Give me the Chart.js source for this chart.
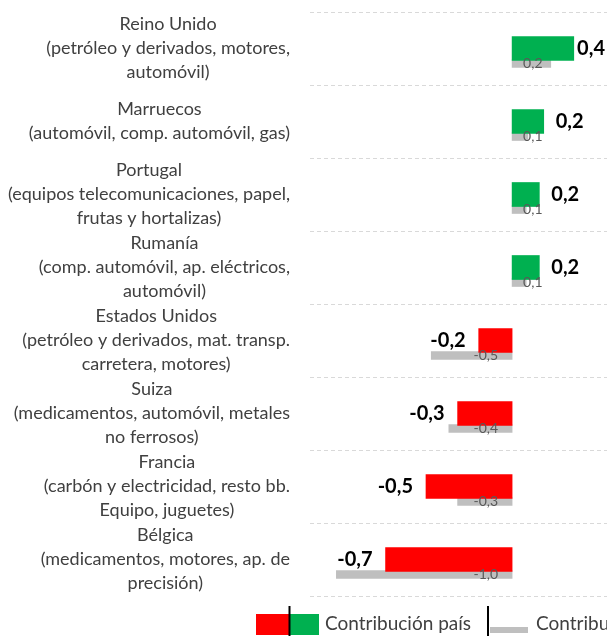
<!DOCTYPE html>
<html>
<head>
<meta charset="utf-8">
<script src="https://cdn.jsdelivr.net/npm/chart.js@4"></script>
<style>
  html, body { margin: 0; padding: 0; background: #ffffff; overflow: hidden; }
  #wrap { position: relative; width: 607px; height: 637px; }
</style>
</head>
<body>
<div id="wrap"><canvas id="c"></canvas></div>
<script>
// ---- Data ----
const categories = [
  ['Reino Unido', '(petróleo y derivados, motores,', 'automóvil)'],
  ['Marruecos', '(automóvil, comp. automóvil, gas)'],
  ['Portugal', '(equipos telecomunicaciones, papel,', 'frutas y hortalizas)'],
  ['Rumanía', '(comp. automóvil, ap. eléctricos,', 'automóvil)'],
  ['Estados Unidos', '(petróleo y derivados, mat. transp.', 'carretera, motores)'],
  ['Suiza', '(medicamentos, automóvil, metales', 'no ferrosos)'],
  ['Francia', '(carbón y electricidad, resto bb.', 'Equipo, juguetes)'],
  ['Bélgica', '(medicamentos, motores, ap. de', 'precisión)']
];
const contribucionPais = [0.351, 0.18, 0.155, 0.155, -0.19, -0.31, -0.49, -0.72];
const contribucionAnterior = [0.22, 0.09, 0.08, 0.08, -0.46, -0.36, -0.31, -1.0];
const legendLabels = ['Contribución país', 'Contribución país periodo anterior'];

const GREEN = '#00B050', RED = '#FF0000', GREY = '#BFBFBF';
const fmt = v => v.toFixed(1).replace('.', ',');

// grey series sits just below the main bar: shift expressed in category units
const ROWS = categories.length;
const greyShift = 15 / 73;

const labelPlugin = {
  id: 'customLabels',
  afterDatasetsDraw(chart) {
    const ctx = chart.ctx;
    const xs = chart.scales.x;
    const ys = chart.scales.y;
    const zero = xs.getPixelForValue(0);
    const W = chart.width;
    // category labels (right-aligned blocks, centered lines)
    ctx.save();
    ctx.font = '18px Lato';
    ctx.fillStyle = '#404040';
    ctx.textBaseline = 'middle';
    ctx.textAlign = 'center';
    const right = 290, lh = 24;
    categories.forEach((lines, i) => {
      const cy = ys.getPixelForValue(i);
      const maxW = Math.max(...lines.map(l => ctx.measureText(l).width));
      const cx = right - maxW / 2;
      const y0 = cy - (lines.length - 1) * lh / 2;
      lines.forEach((l, k) => ctx.fillText(l, cx, y0 + k * lh));
    });
    ctx.restore();

    // main value labels
    const mMain = chart.getDatasetMeta(0);
    ctx.save();
    ctx.font = 'bold 20px Lato';
    ctx.fillStyle = '#000000';
    ctx.textBaseline = 'middle';
    mMain.data.forEach((bar, i) => {
      const v = contribucionPais[i];
      const t = fmt(v);
      const w = ctx.measureText(t).width;
      if (v >= 0) {
        ctx.textAlign = 'left';
        const x = Math.min(bar.x + 12, W - w - 2);
        ctx.fillText(t, x, bar.y);
      } else {
        ctx.textAlign = 'right';
        ctx.fillText(t, bar.x - 13, bar.y);
      }
    });
    ctx.restore();

    // grey value labels (inside base)
    const mGrey = chart.getDatasetMeta(1);
    ctx.save();
    ctx.font = '14px Lato';
    ctx.fillStyle = '#595959';
    ctx.textBaseline = 'middle';
    mGrey.data.forEach((bar, i) => {
      const v = contribucionAnterior[i];
      const t = fmt(v);
      if (v >= 0) {
        ctx.textAlign = 'left';
        ctx.fillText(t, zero + 11, bar.y);
      } else {
        ctx.textAlign = 'right';
        ctx.fillText(t, zero - 14, bar.y);
      }
    });
    ctx.restore();

    // legend
    ctx.save();
    const ly = 624;
    ctx.fillStyle = RED; ctx.fillRect(256, 614, 33, 21);
    ctx.fillStyle = GREEN; ctx.fillRect(290, 614, 29, 21);
    ctx.fillStyle = '#000000';
    ctx.fillRect(288.5, 606, 2, 30);
    ctx.font = '19px Lato';
    ctx.fillStyle = '#404040';
    ctx.textBaseline = 'middle';
    ctx.textAlign = 'left';
    ctx.fillText(legendLabels[0], 325, ly);
    ctx.fillStyle = GREY; ctx.fillRect(490, 627, 38, 6);
    ctx.fillStyle = '#000000'; ctx.fillRect(487, 606, 2, 30);
    ctx.fillStyle = '#404040';
    ctx.fillText(legendLabels[1], 536, ly);
    ctx.restore();
  }
};

new Chart(document.getElementById('c'), {
  type: 'bar',
  data: {
    labels: categories.map(c => c[0]),
    datasets: [
      {
        label: legendLabels[0],
        data: contribucionPais,
        backgroundColor: contribucionPais.map(v => v >= 0 ? GREEN : RED),
        barThickness: 24,
        grouped: false,
        yAxisID: 'y',
        order: 0
      },
      {
        label: legendLabels[1],
        data: contribucionAnterior.map((v, i) => ({ x: v, y: i })),
        backgroundColor: GREY,
        barThickness: 8,
        grouped: false,
        yAxisID: 'y2',
        order: 1
      }
    ]
  },
  options: {
    indexAxis: 'y',
    responsive: true,
    maintainAspectRatio: false,
    animation: false,
    layout: { padding: { left: 310, right: 0, top: 12, bottom: 41 } },
    plugins: { legend: { display: false }, tooltip: { enabled: false } },
    scales: {
      x: { type: 'linear', min: -1.15, max: 0.54, display: false },
      y: {
        type: 'category',
        offset: true,
        ticks: { display: false },
        grid: { offset: true, color: '#D9D9D9', lineWidth: 1, drawTicks: false },
        border: { display: false, dash: [4, 3] }
      },
      y2: {
        type: 'linear',
        display: false,
        offset: false,
        reverse: true,
        min: -0.5 - greyShift,
        max: ROWS - 0.5 - greyShift
      }
    }
  },
  plugins: [labelPlugin]
});
</script>
</body>
</html>
